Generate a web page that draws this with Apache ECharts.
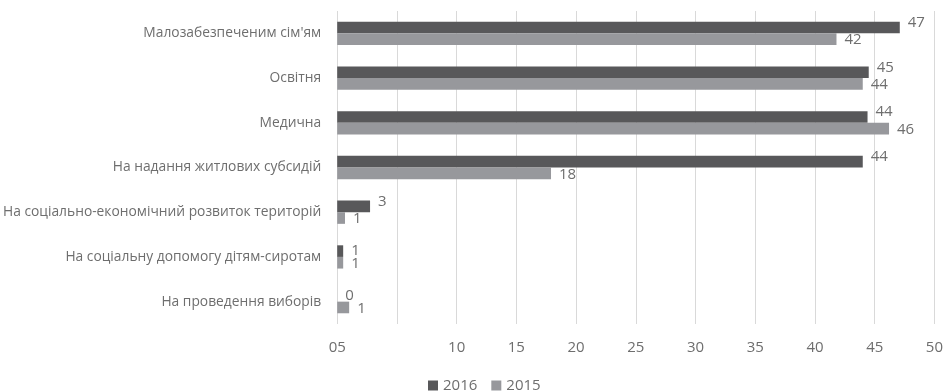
<!DOCTYPE html>
<html>
<head>
<meta charset="utf-8">
<script src="https://cdn.jsdelivr.net/npm/echarts@6/dist/echarts.min.js"></script>
<style>html,body{margin:0;padding:0;background:#fff}#c{width:946px;height:392px}</style>
</head>
<body>
<div id="c"></div>
<script>
const categories = [
  "Малозабезпеченим сім'ям",
  "Освітня",
  "Медична",
  "На надання житлових субсидій",
  "На соціально-економічний розвиток територій",
  "На соціальну допомогу дітям-сиротам",
  "На проведення виборів"
];
const seriesNames = ["2016", "2015"];
const values2016 = [47.1, 44.5, 44.4, 44.0, 2.75, 0.5, 0];
const values2015 = [41.8, 44.0, 46.2, 17.9, 0.65, 0.5, 1.0];
const xTickLabels = {0: "05", 5: "", 10: "10", 15: "15", 20: "20", 25: "25", 30: "30", 35: "35", 40: "40", 45: "45", 50: "50"};

const FONT = "'Open Sans', 'Noto Sans', sans-serif";
const TXT = '#6e6e6e';
const chart = echarts.init(document.getElementById('c'));

function mkData(vals, offFn) {
  return vals.map((v, i) => ({
    value: v,
    label: { offset: [0, offFn(i)] }
  }));
}

chart.setOption({
  animation: false,
  grid: { left: 337, right: 10, top: 11, bottom: 68, containLabel: false },
  legend: {
    top: 373, left: 423, padding: 5,
    icon: 'rect', itemWidth: 10, itemHeight: 10, itemGap: 14,
    textStyle: { color: TXT, fontSize: 15, fontFamily: FONT },
    data: seriesNames
  },
  xAxis: {
    type: 'value', min: 0, max: 50, interval: 5,
    axisLine: { show: false }, axisTick: { show: false },
    splitLine: { lineStyle: { color: '#d9d9d9', width: 1 } },
    axisLabel: {
      color: TXT, fontSize: 15, fontFamily: FONT, margin: 16,
      formatter: v => (v in xTickLabels ? xTickLabels[v] : String(v))
    }
  },
  yAxis: {
    type: 'category', data: categories, inverse: true,
    axisLine: { show: false }, axisTick: { show: false },
    axisLabel: { color: TXT, fontSize: 13.8, fontFamily: FONT, margin: 16 }
  },
  series: [
    {
      name: seriesNames[0], type: 'bar', barGap: '0%', barCategoryGap: '48%',
      itemStyle: { color: '#58585a' },
      label: { show: true, position: 'right', distance: 8, color: TXT, fontSize: 15, fontFamily: FONT,
        formatter: p => Math.round(p.value) },
      data: mkData(values2016, i => (i < 5 ? -5 : 0))
    },
    {
      name: seriesNames[1], type: 'bar', barGap: '0%', barCategoryGap: '48%',
      itemStyle: { color: '#97989c' },
      label: { show: true, position: 'right', distance: 8, color: TXT, fontSize: 15, fontFamily: FONT,
        formatter: p => Math.round(p.value) },
      data: mkData(values2015, i => 1)
    }
  ]
});
</script>
</body>
</html>
